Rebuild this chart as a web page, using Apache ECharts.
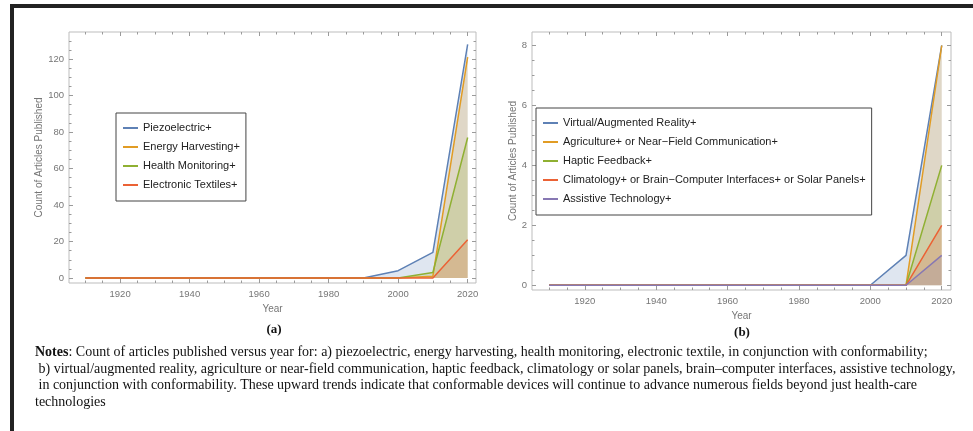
<!DOCTYPE html>
<html>
<head>
<meta charset="utf-8">
<script src="https://cdn.jsdelivr.net/npm/echarts@6/dist/echarts.min.js"></script>
<style>
html,body{margin:0;padding:0;background:#fff;}
#chart{width:973px;height:431px;}
</style>
</head>
<body>
<div id="chart"></div>
<script>
// ---- data ----
const years = [1910, 1920, 1930, 1940, 1950, 1960, 1970, 1980, 1990, 2000, 2010, 2020];

const namesA = ['Piezoelectric+', 'Energy Harvesting+', 'Health Monitoring+', 'Electronic Textiles+'];
const piezoelectric   = [0, 0, 0, 0, 0, 0, 0, 0, 0, 4, 14, 128];
const energyHarvest   = [0, 0, 0, 0, 0, 0, 0, 0, 0, 0, 1, 121];
const healthMonitor   = [0, 0, 0, 0, 0, 0, 0, 0, 0, 0, 3, 77];
const electronicTex   = [0, 0, 0, 0, 0, 0, 0, 0, 0, 0, 0, 21];

const namesB = ['Virtual/Augmented Reality+', 'Agriculture+ or Near\u2212Field Communication+', 'Haptic Feedback+',
                'Climatology+ or Brain\u2212Computer Interfaces+ or Solar Panels+', 'Assistive Technology+'];
const virtualReality  = [0, 0, 0, 0, 0, 0, 0, 0, 0, 0, 1, 8];
const agricultureNFC  = [0, 0, 0, 0, 0, 0, 0, 0, 0, 0, 0, 8];
const hapticFeedback  = [0, 0, 0, 0, 0, 0, 0, 0, 0, 0, 0, 4];
const climatologyBCI  = [0, 0, 0, 0, 0, 0, 0, 0, 0, 0, 0, 2];
const assistiveTech   = [0, 0, 0, 0, 0, 0, 0, 0, 0, 0, 0, 1];

const xMajorTicks = [1920, 1940, 1960, 1980, 2000, 2020];
const xMinorTicks = [1910, 1915, 1925, 1930, 1935, 1945, 1950, 1955, 1965, 1970, 1975, 1985, 1990, 1995, 2005, 2010, 2015];
const yMajorTicksA = [0, 20, 40, 60, 80, 100, 120];
const yMinorTicksA = [5, 10, 15, 25, 30, 35, 45, 50, 55, 65, 70, 75, 85, 90, 95, 105, 110, 115, 125, 130];
const yMajorTicksB = [0, 2, 4, 6, 8];
const yMinorTicksB = [0.5, 1, 1.5, 2.5, 3, 3.5, 4.5, 5, 5.5, 6.5, 7, 7.5];

const captionA = '(a)';
const captionB = '(b)';
const notesLines = [
  '{b|Notes}: Count of articles published versus year for: a) piezoelectric, energy harvesting, health monitoring, electronic textile, in conjunction with conformability;',
  ' b) virtual/augmented reality, agriculture or near-field communication, haptic feedback, climatology or solar panels, brain\u2013computer interfaces, assistive technology,',
  ' in conjunction with conformability. These upward trends indicate that conformable devices will continue to advance numerous fields beyond just health-care',
  'technologies'
];

// ---- styling ----
const colors = ['#5E81B5', '#E19C24', '#8FB032', '#EB6235', '#8778B3'];
const sans = 'Liberation Sans, Arial, sans-serif';
const serif = 'Liberation Serif, Times New Roman, serif';
const frameColor = '#bdbdbd';
const tickColor = '#9a9a9a';
const labelColor = '#767676';

const pairs = vals => years.map((y, i) => [y, vals[i]]);
const plain = v => String(v);

const xAxes = [], yAxes = [];
function addAxes(grid, xr, yr, yMaj, yMin, yNameGap, xNameGap) {
  const base = {type: 'value', gridIndex: grid, axisLine: {show: false, onZero: false}, splitLine: {show: false}};
  const labelStyle = {fontSize: 9.5, color: labelColor, fontFamily: sans, formatter: plain};
  const nameStyle = {fontSize: 10, color: labelColor, fontFamily: sans};
  ['bottom', 'top'].forEach(pos => {
    xAxes.push(Object.assign({}, base, {
      position: pos, min: xr[0], max: xr[1],
      axisTick: {show: true, inside: true, length: 4, customValues: xMajorTicks, lineStyle: {color: tickColor}},
      axisLabel: pos === 'bottom' ? Object.assign({show: true, margin: 6, customValues: xMajorTicks}, labelStyle) : {show: false},
      name: pos === 'bottom' ? 'Year' : '', nameLocation: 'middle', nameGap: xNameGap, nameTextStyle: nameStyle
    }));
    xAxes.push(Object.assign({}, base, {
      position: pos, min: xr[0], max: xr[1],
      axisTick: {show: true, inside: true, length: 2.5, customValues: xMinorTicks, lineStyle: {color: tickColor}},
      axisLabel: {show: false}
    }));
  });
  ['left', 'right'].forEach(pos => {
    yAxes.push(Object.assign({}, base, {
      position: pos, min: yr[0], max: yr[1],
      axisTick: {show: true, inside: true, length: 4, customValues: yMaj, lineStyle: {color: tickColor}},
      axisLabel: pos === 'left' ? Object.assign({show: true, margin: 5, customValues: yMaj}, labelStyle) : {show: false},
      name: pos === 'left' ? 'Count of Articles Published' : '', nameLocation: 'middle', nameGap: yNameGap, nameTextStyle: nameStyle
    }));
    yAxes.push(Object.assign({}, base, {
      position: pos, min: yr[0], max: yr[1],
      axisTick: {show: true, inside: true, length: 2.5, customValues: yMin, lineStyle: {color: tickColor}},
      axisLabel: {show: false}
    }));
  });
}
addAxes(0, [1905.3, 2022.4], [-2.74, 134.8], yMajorTicksA, yMinorTicksA, 25, 18);
addAxes(1, [1905.2, 2022.6], [-0.157, 8.45], yMajorTicksB, yMinorTicksB, 14, 19);

function mkSeries(name, vals, ci, grid) {
  return {
    type: 'line', name: name, data: pairs(vals),
    xAxisIndex: grid * 4, yAxisIndex: grid * 4,
    showSymbol: false, symbol: 'none', silent: true,
    lineStyle: {width: 1.5, color: colors[ci]},
    itemStyle: {color: colors[ci]},
    areaStyle: {color: colors[ci], opacity: 0.2}
  };
}
const seriesA = [piezoelectric, energyHarvest, healthMonitor, electronicTex].map((v, i) => mkSeries(namesA[i], v, i, 0));
const seriesB = [virtualReality, agricultureNFC, hapticFeedback, climatologyBCI, assistiveTech].map((v, i) => mkSeries(namesB[i], v, i, 1));

const legendBase = {
  orient: 'vertical', icon: 'rect', itemWidth: 15, itemHeight: 2, itemGap: 5,
  selectedMode: false, backgroundColor: '#fff', borderColor: '#444', borderWidth: 1,
  padding: [8, 6, 9, 7], itemStyle: {borderWidth: 0},
  textStyle: {fontSize: 11, color: '#222', fontFamily: sans, lineHeight: 14, padding: [0, 0, 0, 0]}
};

const chart = echarts.init(document.getElementById('chart'), null, {renderer: 'canvas'});
chart.setOption({
  animation: false,
  backgroundColor: '#fff',
  grid: [
    {left: 69, top: 32, width: 407, height: 251, show: true, borderColor: frameColor, borderWidth: 1, backgroundColor: 'transparent', outerBoundsMode: 'none'},
    {left: 532, top: 32, width: 419, height: 258, show: true, borderColor: frameColor, borderWidth: 1, backgroundColor: 'transparent', outerBoundsMode: 'none'}
  ],
  xAxis: xAxes,
  yAxis: yAxes,
  legend: [
    Object.assign({}, legendBase, {data: namesA, left: 116, top: 113}),
    Object.assign({}, legendBase, {data: namesB, left: 536, top: 108})
  ],
  series: seriesA.concat(seriesB),
  graphic: [
    {type: 'rect', silent: true, shape: {x: 12, y: 6, width: 1400, height: 900}, style: {fill: 'none', stroke: '#222', lineWidth: 4}},
    {type: 'text', x: 274, y: 330, style: {text: captionA, textAlign: 'center', textVerticalAlign: 'middle', font: 'bold 13px ' + serif, fill: '#111'}},
    {type: 'text', x: 742, y: 333, style: {text: captionB, textAlign: 'center', textVerticalAlign: 'middle', font: 'bold 13px ' + serif, fill: '#111'}},
    {type: 'text', x: 35, y: 344, style: {
      text: notesLines.join('\n'), fontFamily: serif, fontSize: 14, lineHeight: 16.7, fill: '#111',
      rich: {b: {fontWeight: 'bold', fontFamily: serif, fontSize: 14, lineHeight: 16.7, fill: '#111'}}
    }}
  ]
});
</script>
</body>
</html>
